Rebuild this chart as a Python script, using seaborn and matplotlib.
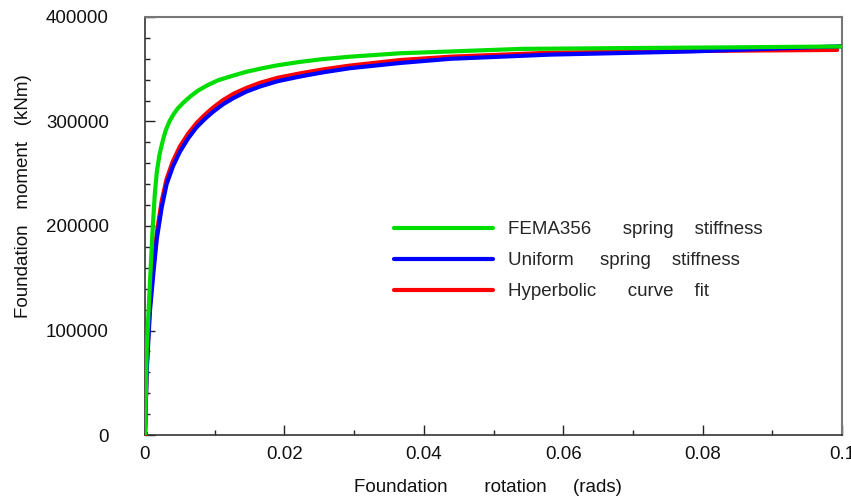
import pandas as pd
import matplotlib
matplotlib.use("Agg")
import matplotlib.pyplot as plt
import seaborn as sns

# Curves
fema_rot = [0, 0.00025, 0.0007, 0.0011, 0.0014, 0.0017, 0.0021, 0.0026, 0.003, 0.0035,
            0.0041, 0.0047, 0.0055, 0.0065, 0.0076, 0.0089, 0.0105, 0.0127, 0.0145,
            0.0165, 0.019, 0.0222, 0.0255, 0.0294, 0.0366, 0.0438, 0.054, 0.07,
            0.085, 0.1]
fema_mom = [0, 81000, 145000, 197000, 230000, 252000, 269000, 283000, 292000, 300000,
            307000, 312500, 318000, 324000, 329500, 334500, 339500, 344000, 347500,
            350500, 353800, 357000, 359700, 362000, 365300, 367000, 369500, 370300,
            371000, 371800]

unif_rot = [0, 0.00025, 0.0007, 0.0012, 0.0017, 0.0024, 0.0031, 0.004, 0.005, 0.0062,
            0.0074, 0.0086, 0.0098, 0.0112, 0.0127, 0.0145, 0.0165, 0.019, 0.0222,
            0.0255, 0.0294, 0.0366, 0.0438, 0.0581, 0.0782, 0.1]
unif_mom = [0, 62000, 118000, 155000, 188000, 218000, 240000, 257000, 271000, 284000,
            294500, 302500, 309500, 316500, 322500, 328500, 333500, 338500, 343000,
            347000, 351000, 356000, 360000, 364000, 367000, 372000]

hyp_rot = [0, 0.00025, 0.0007, 0.0012, 0.0017, 0.0024, 0.0031, 0.004, 0.005, 0.0062,
           0.0074, 0.0086, 0.0098, 0.0112, 0.0127, 0.0145, 0.0165, 0.019, 0.0222,
           0.0255, 0.0294, 0.0366, 0.0438, 0.0581, 0.0782, 0.0993]
hyp_mom = [0, 66000, 124000, 161000, 194000, 224000, 245000, 262000, 276000, 288500,
           298500, 306500, 313500, 320500, 326500, 332000, 337000, 341800, 346000,
           349800, 353500, 358800, 362000, 365800, 367500, 368500]

labels = ["FEMA356      spring    stiffness",
          "Uniform     spring    stiffness",
          "Hyperbolic      curve    fit"]

sns.set_style("white")
plt.rcParams["font.family"] = ["Liberation Sans", "DejaVu Sans"]

fig = plt.figure(figsize=(8.51, 4.99), dpi=100)
ax = fig.add_axes([145 / 851, 64 / 499, 697 / 851, 418 / 499])

fema = pd.DataFrame({"rot": fema_rot, "mom": fema_mom})
unif = pd.DataFrame({"rot": unif_rot, "mom": unif_mom})
hyp = pd.DataFrame({"rot": hyp_rot, "mom": hyp_mom})

sns.lineplot(data=hyp, x="rot", y="mom", color="#ff0000", lw=3, ax=ax,
             marker="s", markevery=[0], markersize=4, markeredgewidth=0, zorder=3)
sns.lineplot(data=unif, x="rot", y="mom", color="#0000ff", lw=3, ax=ax, zorder=4)
sns.lineplot(data=fema, x="rot", y="mom", color="#00dd00", lw=3, ax=ax, zorder=5)

ax.set_xlim(0, 0.1)
ax.set_ylim(0, 400000)
ax.set_xticks([0, 0.02, 0.04, 0.06, 0.08, 0.1])
ax.set_xticklabels(["0", "0.02", "0.04", "0.06", "0.08", "0.1"])
ax.set_xticks([0.01, 0.03, 0.05, 0.07, 0.09], minor=True)
ax.set_yticks([0, 100000, 200000, 300000, 400000])
ax.set_yticklabels(["0", "100000", "200000", "300000", "400000"])
ax.set_yticks(range(20000, 400000, 20000), minor=True)

ax.tick_params(axis="both", which="both", direction="in", colors="#222222",
               labelcolor="#111111", labelsize=13.5, top=False, right=False,
               bottom=True, left=True)
ax.tick_params(axis="both", which="major", length=7, width=1)
ax.tick_params(axis="both", which="minor", length=3.6, width=1)
ax.tick_params(axis="y", which="major", pad=26)
ax.tick_params(axis="x", which="major", pad=8)

for side in ["left", "bottom"]:
    ax.spines[side].set_color("#333333")
    ax.spines[side].set_linewidth(1.2)
for side in ["top", "right"]:
    ax.spines[side].set_color("#777777")
    ax.spines[side].set_linewidth(1.5)

ax.set_xlabel("Foundation       rotation     (rads)", fontsize=13.5, color="#111111")
ax.set_ylabel("Foundation   moment   (kNm)", fontsize=13.5, color="#111111")
ax.xaxis.set_label_coords(0.492, -0.105)
ax.yaxis.set_label_coords(-0.162, 0.572)

handles = ax.get_lines()
leg = ax.legend([handles[2], handles[1], handles[0]], labels, loc="upper left",
                bbox_to_anchor=(0.357, 0.512), frameon=False, fontsize=13.5,
                handlelength=5.3, handletextpad=0.8, labelspacing=0.74,
                borderpad=0, borderaxespad=0)
for line in leg.get_lines():
    line.set_marker("")

fig.savefig("out.png", dpi=100)
